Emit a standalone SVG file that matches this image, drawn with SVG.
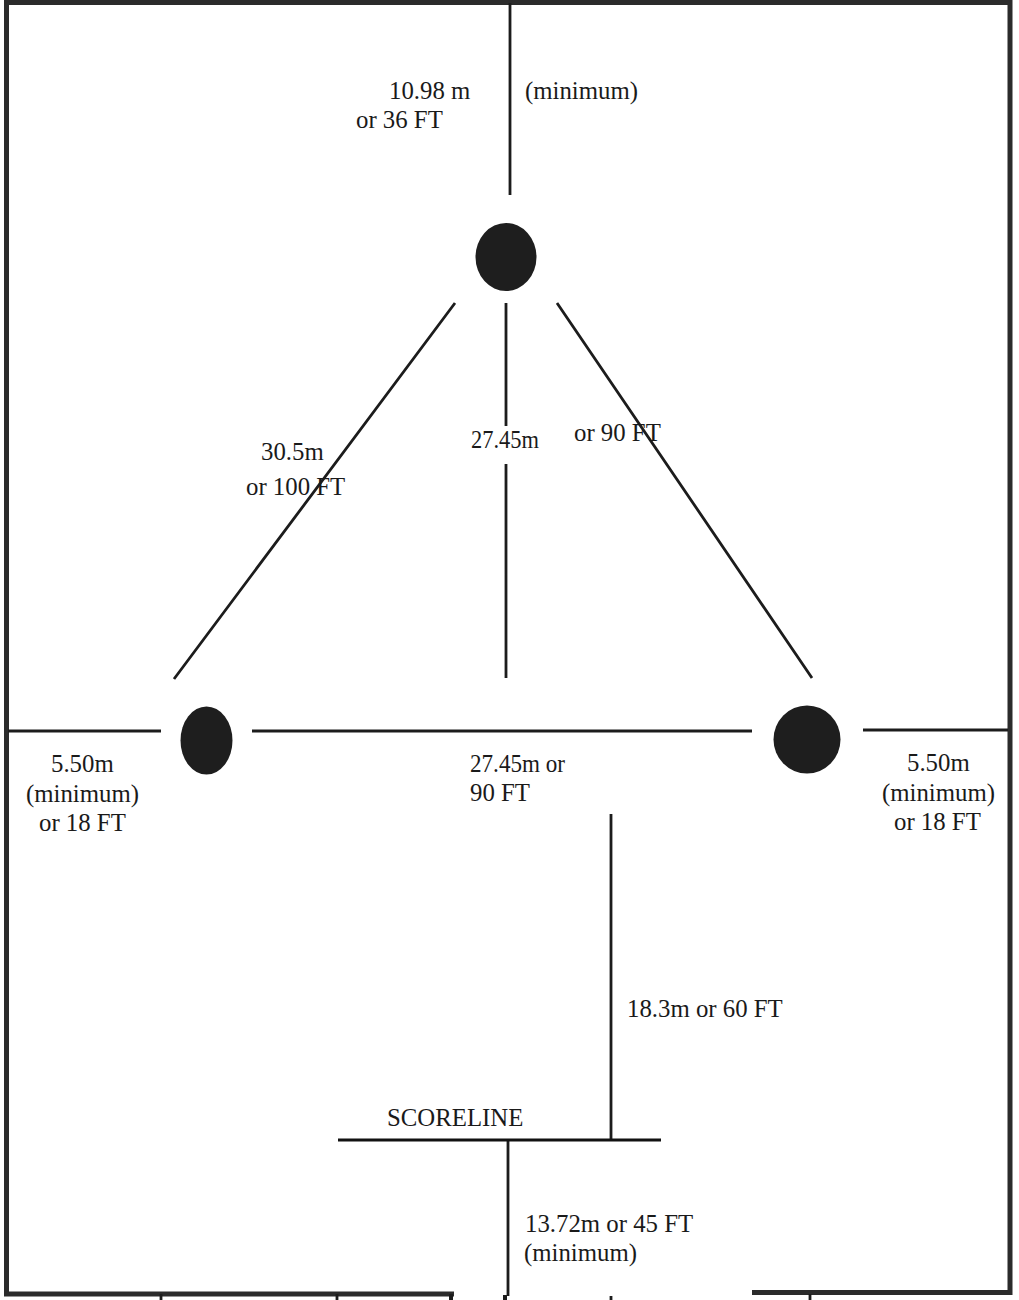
<svg xmlns="http://www.w3.org/2000/svg" width="1019" height="1300" viewBox="0 0 1019 1300">
<style>
text{font-family:"Liberation Serif","Times New Roman",serif;font-size:24.8px;fill:#1a1a1a}
.b{fill:none;stroke:#2b2b2b;stroke-width:5}
.l{fill:none;stroke:#1c1c1c;stroke-width:2.8}
.t{fill:none;stroke:#1c1c1c;stroke-width:4}
.n{fill:#1e1e1e}
</style>
<rect width="1019" height="1300" fill="#fff"/>
<g id="connectors">
<path class="b" d="M454 1294H6.500V2.500H1010V1292.500H752"/>
<path class="l" d="M510 3V195M455 303L174 679M506 303V426M506 464V678M557 303L812 678M8 731H161M252 731H752M863 730H1008M611 814V1139M508 1140V1296M161 1294V1300M337 1294V1300M611 1296V1300M810 1294V1300"/>
<path class="t" d="M451 1294V1300M505 1295V1300"/>
<path fill="none" stroke="#111" stroke-width="3" d="M338 1140H661"/>
</g>
<g id="node-top"><ellipse class="n" cx="506" cy="257" rx="30.5" ry="34"/></g>
<g id="node-left"><ellipse class="n" cx="206.500" cy="740.500" rx="26" ry="34"/></g>
<g id="node-right"><ellipse class="n" cx="807" cy="739.500" rx="33.500" ry="34"/></g>
<g id="labels">
<text x="389" y="99">10.98 m</text>
<text x="356" y="128">or 36 FT</text>
<text x="525" y="99">(minimum)</text>
<text x="261" y="460">30.5m</text>
<text x="246" y="495">or 100 FT</text>
<text x="471" y="448" textLength="68" lengthAdjust="spacingAndGlyphs">27.45m</text>
<text x="574" y="441">or 90 FT</text>
<text x="51" y="772">5.50m</text>
<text x="26" y="802">(minimum)</text>
<text x="39" y="831">or 18 FT</text>
<text x="470" y="772" textLength="95" lengthAdjust="spacingAndGlyphs">27.45m or</text>
<text x="470" y="801" textLength="60" lengthAdjust="spacingAndGlyphs">90 FT</text>
<text x="907" y="771">5.50m</text>
<text x="882" y="801">(minimum)</text>
<text x="894" y="830">or 18 FT</text>
<text x="627" y="1017">18.3m or 60 FT</text>
<text x="387" y="1126">SCORELINE</text>
<text x="525" y="1232">13.72m or 45 FT</text>
<text x="524" y="1261">(minimum)</text>
</g>
</svg>
